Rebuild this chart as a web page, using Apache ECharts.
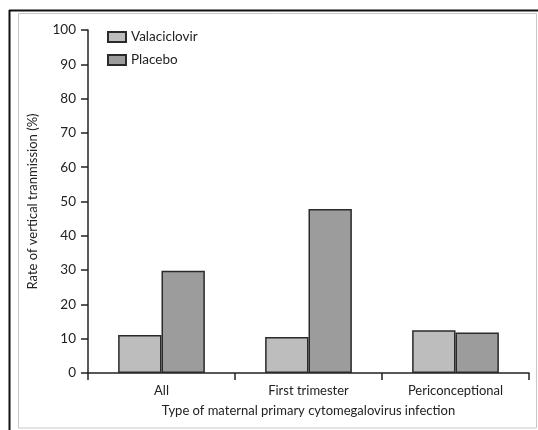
<!DOCTYPE html>
<html>
<head>
<meta charset="utf-8">
<script src="https://cdn.jsdelivr.net/npm/echarts@6/dist/echarts.min.js"></script>
<style>
  html, body { margin: 0; padding: 0; background: #fff; }
  #chart { width: 538px; height: 430px; }
</style>
</head>
<body>
<div id="chart"></div>
<script>
// Vertical transmission rate by type of maternal primary CMV infection
const categories = ['All', 'First trimester', 'Periconceptional'];
const valaciclovir = [11.1, 10.5, 12.5];
const placebo = [29.8, 47.8, 11.8];
const yTicks = { min: 0, max: 100, interval: 10 };

const FONT = 'Lato';
const INK = '#222';

const chart = echarts.init(document.getElementById('chart'), null, { renderer: 'canvas' });

chart.setOption({
  animation: false,
  backgroundColor: '#fff',
  textStyle: { fontFamily: FONT, color: INK },
  graphic: [
    // panel frame
    { type: 'line', shape: { x1: 9, y1: 10.5, x2: 538, y2: 10.5 }, style: { stroke: '#111', lineWidth: 2 } },
    { type: 'line', shape: { x1: 9.5, y1: 10, x2: 9.5, y2: 430 }, style: { stroke: '#111', lineWidth: 2 } },
    { type: 'rect', shape: { x: 18.5, y: 13.5, width: 518, height: 414.5 }, style: { fill: 'none', stroke: '#c8c8c8', lineWidth: 1 } }
  ],
  legend: {
    left: 102,
    top: 25,
    orient: 'vertical',
    itemWidth: 18,
    itemHeight: 10,
    itemGap: 9,
    icon: 'rect',
    textStyle: { fontFamily: FONT, fontSize: 13.5, color: INK },
    data: ['Valaciclovir', 'Placebo']
  },
  grid: { left: 88, right: 9, top: 30, bottom: 57, containLabel: false },
  xAxis: {
    type: 'category',
    data: categories,
    name: 'Type of maternal primary cytomegalovirus infection',
    nameLocation: 'middle',
    nameGap: 31,
    nameTextStyle: { fontFamily: FONT, fontSize: 13, color: INK },
    axisLine: { lineStyle: { color: INK, width: 1.5 } },
    axisTick: { show: true, alignWithLabel: false, length: 7, lineStyle: { color: INK, width: 1.5 } },
    axisLabel: { fontFamily: FONT, fontSize: 13, color: INK, margin: 11 }
  },
  yAxis: {
    type: 'value',
    min: yTicks.min,
    max: yTicks.max,
    interval: yTicks.interval,
    name: 'Rate of vertical tranmission (%)',
    nameLocation: 'middle',
    nameGap: 49,
    nameTextStyle: { fontFamily: FONT, fontSize: 13, color: INK },
    splitLine: { show: false },
    axisLine: { show: true, lineStyle: { color: INK, width: 1.5 } },
    axisTick: { show: true, length: 7, lineStyle: { color: INK, width: 1.5 } },
    axisLabel: { fontFamily: FONT, fontSize: 13.5, color: INK, margin: 12 }
  },
  series: [
    {
      name: 'Valaciclovir',
      type: 'bar',
      data: valaciclovir,
      barGap: '0%',
      barCategoryGap: '41%',
      itemStyle: { color: '#bdbdbd', borderColor: '#2a2a2a', borderWidth: 1.5 }
    },
    {
      name: 'Placebo',
      type: 'bar',
      data: placebo,
      barGap: '0%',
      barCategoryGap: '41%',
      itemStyle: { color: '#9c9c9c', borderColor: '#2a2a2a', borderWidth: 1.5 }
    }
  ]
});
</script>
</body>
</html>
